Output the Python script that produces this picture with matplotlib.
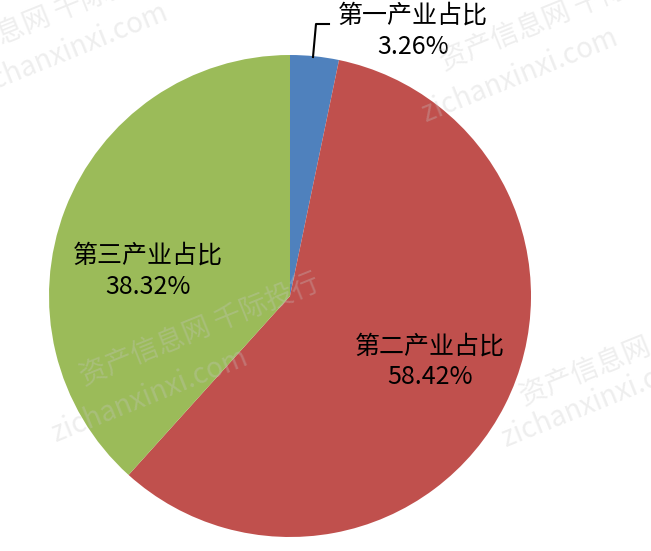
import matplotlib.pyplot as plt

plt.rcParams['font.family'] = ['Noto Sans CJK SC', 'DejaVu Sans']

# data
sectors = ["第一产业占比", "第二产业占比", "第三产业占比"]
shares = [3.26, 58.42, 38.32]
colors = ["#4F81BD", "#C0504D", "#9BBB59"]

W, H = 651, 551
fig = plt.figure(figsize=(W / 100, H / 100), dpi=100)
ax = fig.add_axes([0, 0, 1, 1])

cx, cy, r = 290, H - 296, 241
wedges, _ = ax.pie(shares, colors=colors, startangle=90, counterclock=False,
                   center=(cx, cy), radius=r, frame=True,
                   wedgeprops=dict(linewidth=0))
ax.set_xlim(0, W)
ax.set_ylim(0, H)
ax.set_aspect('equal')
ax.axis('off')

# labels (pixel positions, y flipped)
label_pos = [(413, 31), (430, 362), (148, 271)]
for name, val, (px, py) in zip(sectors, shares, label_pos):
    ax.text(px, H - py, f"{name}\n{val:.2f}%", ha='center', va='center',
            fontsize=18, color='black', linespacing=1.25)

# leader line for the small slice
ax.plot([313, 316, 329], [H - 57, H - 24, H - 24], color='black', lw=1.5)

# faint watermarks
wm = dict(color='#c8c8c8', alpha=0.3, fontsize=20, rotation=22,
          ha='center', va='center', zorder=5)
ax.text(40, H - 20, "资产信息网 千际投行", **wm)
ax.text(70, H - 50, "zichanxinxi.com", **wm)
ax.text(560, H - 15, "资产信息网 千际投行", **wm)
ax.text(520, H - 75, "zichanxinxi.com", **wm)
ax.text(200, H - 330, "资产信息网 千际投行", **wm)
ax.text(150, H - 395, "zichanxinxi.com", **wm)
ax.text(640, H - 350, "资产信息网 千际投行", **wm)
ax.text(600, H - 400, "zichanxinxi.com", **wm)

fig.savefig("out.png", dpi=100, facecolor='white')
